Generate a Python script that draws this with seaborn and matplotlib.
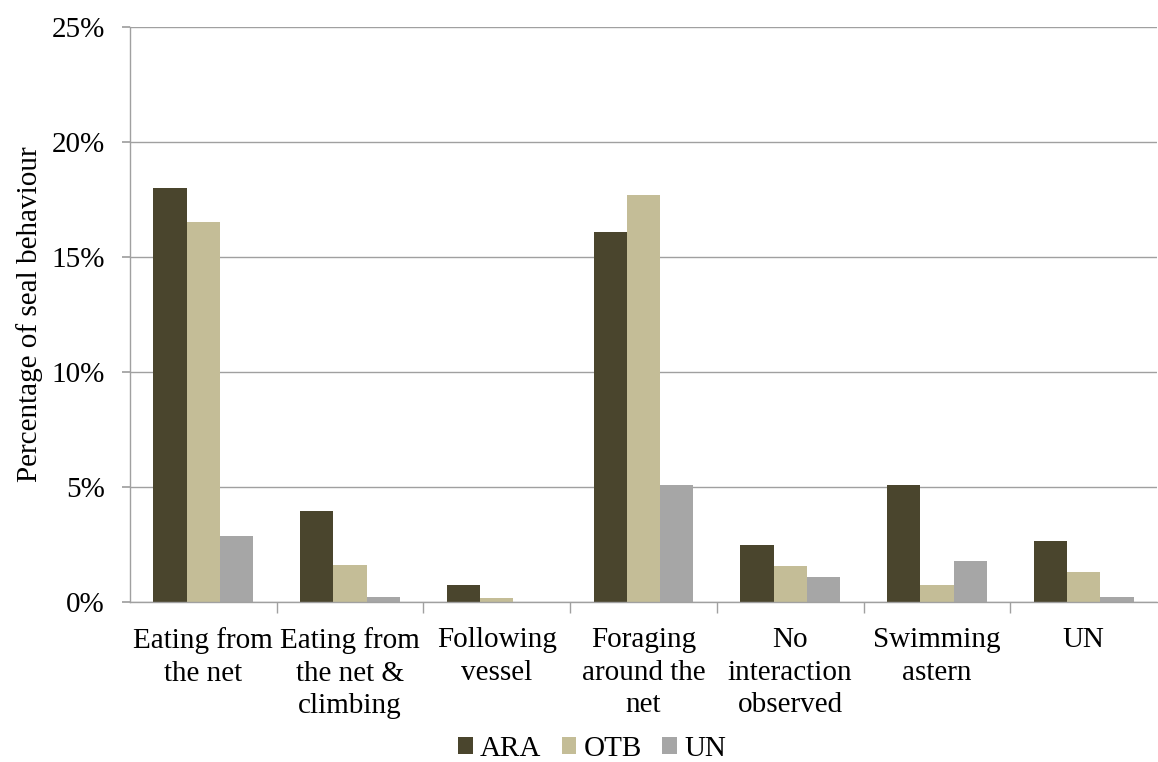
import matplotlib.pyplot as plt
import numpy as np
import pandas as pd
import seaborn as sns
from matplotlib.ticker import FixedLocator, PercentFormatter

categories = [
    "Eating from\nthe net",
    "Eating from\nthe net &\nclimbing",
    "Following\nvessel",
    "Foraging\naround the\nnet",
    "No\ninteraction\nobserved",
    "Swimming\nastern",
    "UN",
]
series = ["ARA", "OTB", "UN"]
ara = [18.0, 3.96, 0.74, 16.09, 2.48, 5.09, 2.65]
otb = [16.52, 1.61, 0.17, 17.70, 1.57, 0.74, 1.30]
un = [2.87, 0.22, 0.0, 5.09, 1.09, 1.78, 0.22]
colors = ["#4A452D", "#C4BD97", "#A6A6A6"]

df = pd.DataFrame({
    "behaviour": categories * 3,
    "gear": [s for s in series for _ in categories],
    "pct": ara + otb + un,
})

sns.set_theme(style="white")
plt.rcParams["font.family"] = ["Liberation Serif", "DejaVu Serif"]
plt.rcParams["text.color"] = "black"
plt.rcParams["axes.labelcolor"] = "black"
plt.rcParams["xtick.color"] = "black"
plt.rcParams["ytick.color"] = "black"

fs = 21

fig = plt.figure(figsize=(11.58, 7.62), dpi=100)
ax = fig.add_axes([130 / 1158, 1 - 602 / 762, 1027 / 1158, 575 / 762])

sns.barplot(data=df, x="behaviour", y="pct", hue="gear", hue_order=series,
            palette=colors, width=0.68, saturation=1, ax=ax,
            edgecolor="none", linewidth=0)

ax.set_ylim(0, 25)
ax.set_xlim(-0.5, len(categories) - 0.5)
ax.yaxis.set_major_locator(FixedLocator([0, 5, 10, 15, 20, 25]))
ax.yaxis.set_major_formatter(PercentFormatter(decimals=0))
ax.grid(axis="y", color="#A0A0A0", linewidth=1)
ax.set_axisbelow(True)

for side in ["top", "right"]:
    ax.spines[side].set_visible(False)
for side in ["left", "bottom"]:
    ax.spines[side].set_color("#A0A0A0")
    ax.spines[side].set_linewidth(1)

ax.tick_params(axis="y", which="major", length=6, color="#A0A0A0",
               labelcolor="black", direction="out", left=True,
               labelsize=fs, pad=12)
ax.tick_params(axis="x", which="major", length=0, labelcolor="black",
               labelsize=fs, pad=18)
ax.xaxis.set_minor_locator(FixedLocator(np.arange(0.5, len(categories) - 1, 1.0)))
ax.tick_params(axis="x", which="minor", length=8, color="#A0A0A0",
               direction="out", bottom=True)
for lab in ax.get_xticklabels():
    lab.set_linespacing(1.33)

ax.set_xlabel("")
ax.set_ylabel("Percentage of seal behaviour", fontsize=fs, labelpad=6)

ax.get_legend().remove()
handles, labels = ax.get_legend_handles_labels()
fig.legend(handles[:3], series, loc="center", bbox_to_anchor=(592 / 1158, 1 - 749 / 762),
           ncol=3, frameon=False, fontsize=fs, handlelength=0.5, handleheight=0.5,
           handletextpad=0.25, columnspacing=0.7, borderaxespad=0, borderpad=0)

fig.savefig("out.png", dpi=100)
